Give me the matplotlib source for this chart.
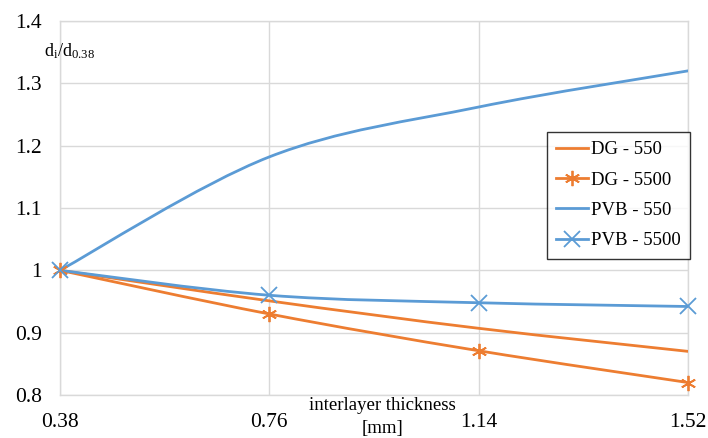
import matplotlib
matplotlib.use("Agg")
import matplotlib.pyplot as plt
from matplotlib.path import Path
from matplotlib.patches import PathPatch
from matplotlib.lines import Line2D

plt.rcParams['font.family'] = ['Liberation Serif', 'DejaVu Serif']
plt.rcParams['mathtext.fontset'] = 'custom'
plt.rcParams['mathtext.rm'] = 'Liberation Serif'
plt.rcParams['mathtext.it'] = 'Liberation Serif'

# dane
thickness = [0.38, 0.76, 1.14, 1.52]
dg_550 = [1.0, 0.951, 0.907, 0.870]
dg_5500 = [1.0, 0.930, 0.871, 0.820]
pvb_550 = [1.0, 1.182, 1.262, 1.320]
pvb_5500 = [1.0, 0.960, 0.948, 0.942]

orange = '#ED7D31'
blue = '#5B9BD5'
grid_c = '#D9D9D9'


def smooth_path(xs, ys):
    # curva suave tipo Excel (Catmull-Rom em Bezier cubica)
    pts = list(zip(xs, ys))
    n = len(pts)
    verts = [pts[0]]
    codes = [Path.MOVETO]
    for i in range(n - 1):
        p0 = pts[max(i - 1, 0)]
        p1 = pts[i]
        p2 = pts[i + 1]
        p3 = pts[min(i + 2, n - 1)]
        c1 = (p1[0] + (p2[0] - p0[0]) / 6, p1[1] + (p2[1] - p0[1]) / 6)
        c2 = (p2[0] - (p3[0] - p1[0]) / 6, p2[1] - (p3[1] - p1[1]) / 6)
        verts += [c1, c2, p2]
        codes += [Path.CURVE4] * 3
    return Path(verts, codes)


fig = plt.figure(figsize=(7.08, 4.38), dpi=100)
ax = fig.add_axes([60 / 708, 43 / 438, 628 / 708, 374 / 438])

series = [
    (dg_550, orange, None, 'DG - 550'),
    (dg_5500, orange, (6, 2, 0), 'DG - 5500'),
    (pvb_550, blue, None, 'PVB - 550'),
    (pvb_5500, blue, 'x', 'PVB - 5500'),
]

handles = []
for vals, col, mk, lab in series:
    ax.add_patch(PathPatch(smooth_path(thickness, vals), fill=False,
                           edgecolor=col, lw=2, zorder=3,
                           capstyle='round', joinstyle='round'))
    if mk is not None:
        ax.plot(thickness, vals, ls='none', marker=mk, ms=11, mew=1.3,
                color=col, zorder=4, clip_on=False)
    handles.append(Line2D([], [], color=col, lw=2, marker=mk, ms=11,
                          mew=1.3, label=lab))

ax.set_xlim(0.38, 1.52)
ax.set_ylim(0.8, 1.4)
ax.set_xticks(thickness)
ax.set_xticklabels(['0.38', '0.76', '1.14', '1.52'])
ax.set_yticks([0.8, 0.9, 1.0, 1.1, 1.2, 1.3, 1.4])
ax.set_yticklabels(['0.8', '0.9', '1', '1.1', '1.2', '1.3', '1.4'])
ax.tick_params(length=0, labelsize=15.5, colors='black')
ax.tick_params(axis='y', pad=13)
ax.tick_params(axis='x', pad=13)
ax.grid(True, color=grid_c, lw=1)
ax.set_axisbelow(True)
for s in ax.spines.values():
    s.set_color(grid_c)
    s.set_linewidth(1)

ax.text(-0.026, 0.92, r'$\mathrm{d_i/d_{0.38}}$', transform=ax.transAxes,
        fontsize=13, ha='left', va='center')
ax.text(0.514, -0.005, 'interlayer thickness\n[mm]', transform=ax.transAxes,
        fontsize=13.5, ha='center', va='top', linespacing=1.45)

leg = ax.legend(handles=handles, loc='upper left',
                bbox_to_anchor=(487 / 628, (395 - 132) / 374),
                fontsize=13.5, frameon=True, fancybox=False,
                handlelength=1.7, handletextpad=0.15, borderpad=0.5,
                labelspacing=0.7, borderaxespad=0)
leg.get_frame().set_edgecolor('black')
leg.get_frame().set_linewidth(1)

fig.savefig('out.png', dpi=100)
